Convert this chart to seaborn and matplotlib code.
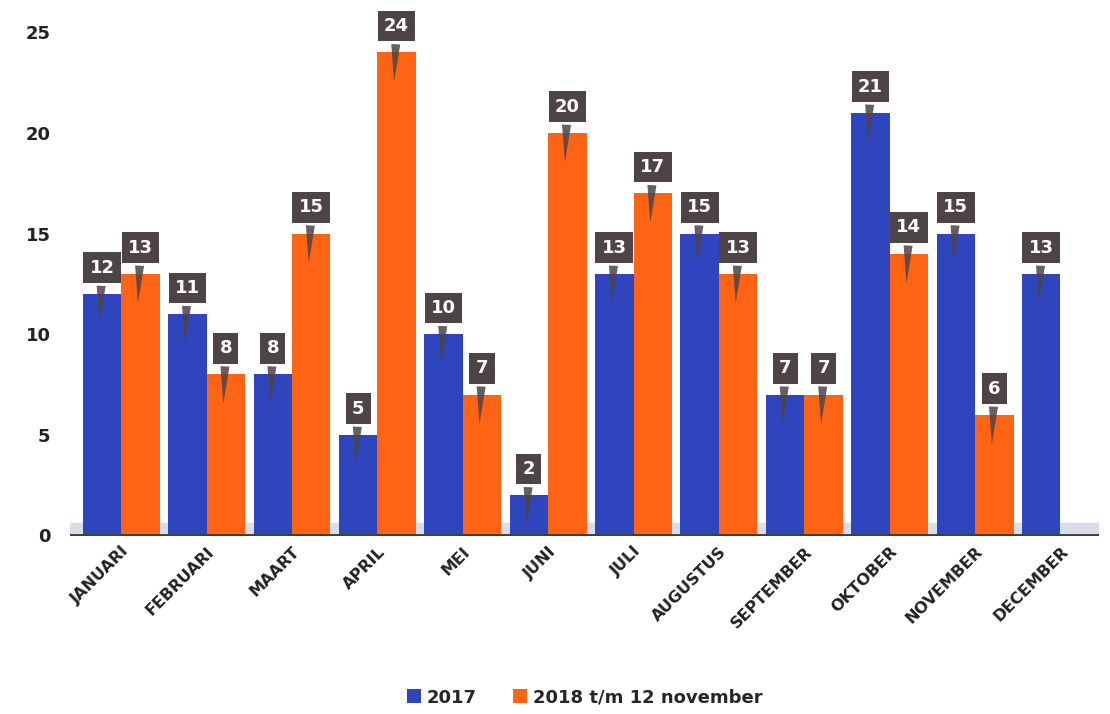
import numpy as np
import pandas as pd
import seaborn as sns
import matplotlib.pyplot as plt

months = ['JANUARI', 'FEBRUARI', 'MAART', 'APRIL', 'MEI', 'JUNI', 'JULI',
          'AUGUSTUS', 'SEPTEMBER', 'OKTOBER', 'NOVEMBER', 'DECEMBER']
v2017 = [12, 11, 8, 5, 10, 2, 13, 15, 7, 21, 15, 13]
v2018 = [13, 8, 15, 24, 7, 20, 17, 13, 7, 14, 6, np.nan]
series = ['2017', '2018 t/m 12 november']
colors = ['#2f45bd', '#ff6414']

df = pd.DataFrame({
    'maand': months * 2,
    'reeks': [series[0]] * 12 + [series[1]] * 12,
    'aantal': v2017 + v2018,
})

sns.set_theme(style='white')
plt.rcParams['font.family'] = ['DejaVu Sans']

fig = plt.figure(figsize=(11.1, 7.14), dpi=100)
ax = fig.add_axes([0.063, 0.25, 0.927, 0.719])

ax.axhspan(0, 0.6, color='#d9dcea', zorder=0)

sns.barplot(data=df, x='maand', y='aantal', hue='reeks', palette=colors,
            saturation=1, width=0.9, ax=ax, edgecolor='none', zorder=2)

# value callouts
for cont, vals in zip(ax.containers, [v2017, v2018]):
    for bar, v in zip(cont, vals):
        if np.isnan(v):
            continue
        x = bar.get_x() + bar.get_width() / 2
        h = bar.get_height()
        ax.annotate(f'{int(v)}', xy=(x - 0.03, h - 1.6), xytext=(x, h + 1.3),
                    ha='center', va='center', color='white', fontsize=13,
                    fontweight='bold', zorder=5,
                    bbox=dict(boxstyle='square,pad=0.35', fc='#4e4347', ec='none'),
                    arrowprops=dict(arrowstyle='wedge,tail_width=0.5,shrink_factor=0.5',
                                    fc='#4e4347', ec='none', alpha=0.85))

ax.set_ylim(0, 25.5)
ax.set_xlim(-0.6, 11.45)
ax.set_yticks([0, 5, 10, 15, 20, 25])
ax.set_xlabel('')
ax.set_ylabel('')
for s in ax.spines.values():
    s.set_visible(False)
ax.axhline(0, color='#3d3d3d', lw=3.5, zorder=3)
ax.tick_params(axis='y', labelsize=13, colors='#222222', pad=14, length=0)
ax.tick_params(axis='x', labelsize=11.5, colors='#222222', pad=6, length=0)
for t in ax.get_yticklabels():
    t.set_fontweight('bold')
for t in ax.get_xticklabels():
    t.set_rotation(45)
    t.set_ha('right')
    t.set_rotation_mode('anchor')
    t.set_fontweight('semibold')

ax.legend(loc='lower center', bbox_to_anchor=(0.5, -0.365), ncol=2, frameon=False,
          handlelength=0.8, handleheight=0.8, columnspacing=2.0, handletextpad=0.3,
          prop={'weight': 'bold', 'size': 13})

fig.savefig('out.png', dpi=100)
